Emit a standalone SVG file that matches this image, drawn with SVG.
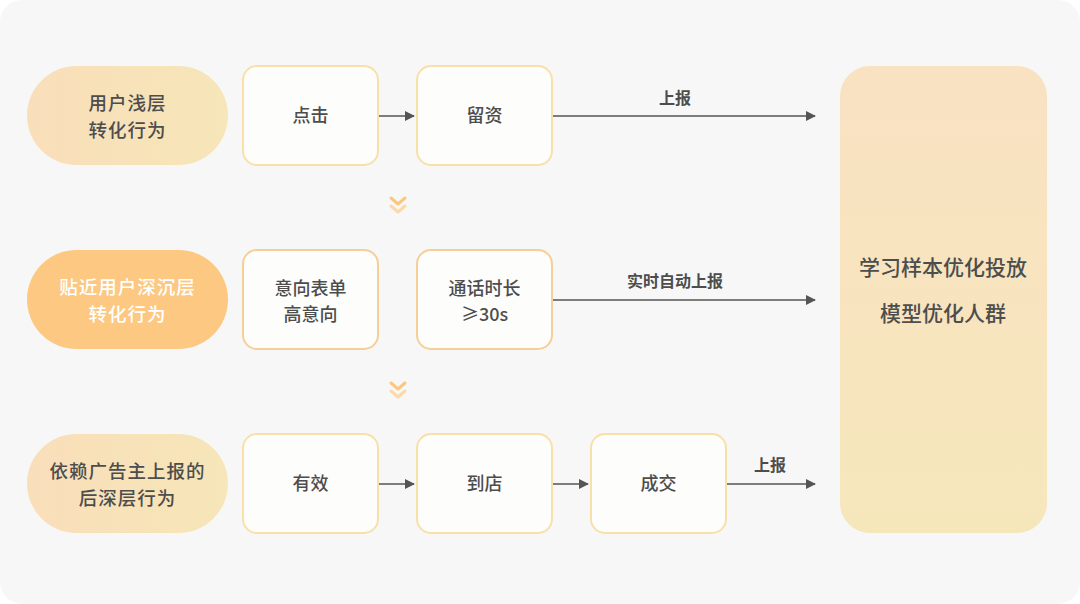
<svg xmlns="http://www.w3.org/2000/svg" width="1080" height="604" viewBox="0 0 1080 604">
<defs>
<linearGradient id="gPill" x1="0" y1="0" x2="1" y2="0">
<stop offset="0" stop-color="#f9deba"/>
<stop offset="1" stop-color="#f6e6b8"/>
</linearGradient>
<linearGradient id="gRight" x1="0" y1="0" x2="0" y2="1">
<stop offset="0" stop-color="#f9e2c2"/>
<stop offset="1" stop-color="#f6e7bb"/>
</linearGradient>
<marker id="arr" viewBox="0 0 10 10" refX="9" refY="5" markerWidth="10" markerHeight="10" markerUnits="userSpaceOnUse" orient="auto">
<path d="M0,0 L10,5 L0,10 z" fill="#555"/>
</marker>
<g id="chev">
<path d="M-7,-8 L0,-2 L7,-8" fill="none" stroke="#fbc77f" stroke-width="3" stroke-linecap="round" stroke-linejoin="round"/>
<path d="M-7,0 L0,6 L7,0" fill="none" stroke="#fbd9a8" stroke-width="3" stroke-linecap="round" stroke-linejoin="round"/>
</g>
</defs>
<style>
text{font-family:"Noto Sans CJK SC","Noto Sans",sans-serif;text-anchor:middle;fill:#4d4d4d;font-weight:500}
.pt{font-size:18.5px;letter-spacing:1px}
.bt{font-size:18px}
.rt{font-size:21px}
.lt{font-size:16px;font-weight:bold;fill:#4d4d4d}
.box{fill:#fdfdfc;stroke:#f8e0a9;stroke-width:2}
.box2{fill:#fdfdfc;stroke:#f6cf98;stroke-width:2}
.cn{stroke:#555;stroke-width:1.5;fill:none;marker-end:url(#arr)}
</style>
<rect x="0" y="0" width="1080" height="604" fill="#ffffff"/>
<rect x="0" y="0" width="1080" height="604" rx="22" fill="#f7f7f7"/>

<g id="pill1"><rect x="27" y="66" width="201" height="99" rx="49.5" fill="url(#gPill)"/><text class="pt" x="127.5" y="109.5">用户浅层</text><text class="pt" x="127.5" y="136.5">转化行为</text></g>
<g id="pill2"><rect x="27" y="250" width="201" height="99" rx="49.5" fill="#fcc882"/><text class="pt" x="127.5" y="293.5" style="fill:#fff">贴近用户深沉层</text><text class="pt" x="127.5" y="320.5" style="fill:#fff">转化行为</text></g>
<g id="pill3"><rect x="27" y="434" width="201" height="99" rx="49.5" fill="url(#gPill)"/><text class="pt" x="127.5" y="477.5">依赖广告主上报的</text><text class="pt" x="127.5" y="504.5">后深层行为</text></g>

<g id="n-click"><rect class="box" x="243" y="66" width="135" height="99" rx="14"/><text class="bt" x="310.5" y="122">点击</text></g>
<g id="n-leave"><rect class="box" x="417" y="66" width="135" height="99" rx="14"/><text class="bt" x="484.5" y="122">留资</text></g>
<g id="n-form"><rect class="box2" x="243" y="250" width="135" height="99" rx="14"/><text class="bt" x="310.5" y="295">意向表单</text><text class="bt" x="310.5" y="321">高意向</text></g>
<g id="n-call"><rect class="box2" x="417" y="250" width="135" height="99" rx="14"/><text class="bt" x="484.5" y="295">通话时长</text><text class="bt" x="484.5" y="321">≥30s</text></g>
<g id="n-valid"><rect class="box" x="243" y="434" width="135" height="99" rx="14"/><text class="bt" x="310.5" y="490">有效</text></g>
<g id="n-store"><rect class="box" x="417" y="434" width="135" height="99" rx="14"/><text class="bt" x="484.5" y="490">到店</text></g>
<g id="n-deal"><rect class="box" x="591" y="434" width="135" height="99" rx="14"/><text class="bt" x="658.5" y="490">成交</text></g>

<g id="n-target"><rect x="840" y="66" width="207" height="467" rx="30" fill="url(#gRight)"/><text class="rt" x="943" y="275">学习样本优化投放</text><text class="rt" x="943" y="321">模型优化人群</text></g>

<g id="chevrons">
<use href="#chev" x="398" y="206"/>
<use href="#chev" x="398" y="391"/>
</g>

<g id="connectors">
<line class="cn" x1="379" y1="116" x2="414" y2="116"/>
<line class="cn" x1="553" y1="116" x2="815" y2="116"/>
<text class="lt" x="675" y="104">上报</text>
<line class="cn" x1="553" y1="300" x2="815" y2="300"/>
<text class="lt" x="675" y="287">实时自动上报</text>
<line class="cn" x1="379" y1="484" x2="414" y2="484"/>
<line class="cn" x1="553" y1="484" x2="588" y2="484"/>
<line class="cn" x1="727" y1="484" x2="815" y2="484"/>
<text class="lt" x="770" y="471">上报</text>
</g>
</svg>
